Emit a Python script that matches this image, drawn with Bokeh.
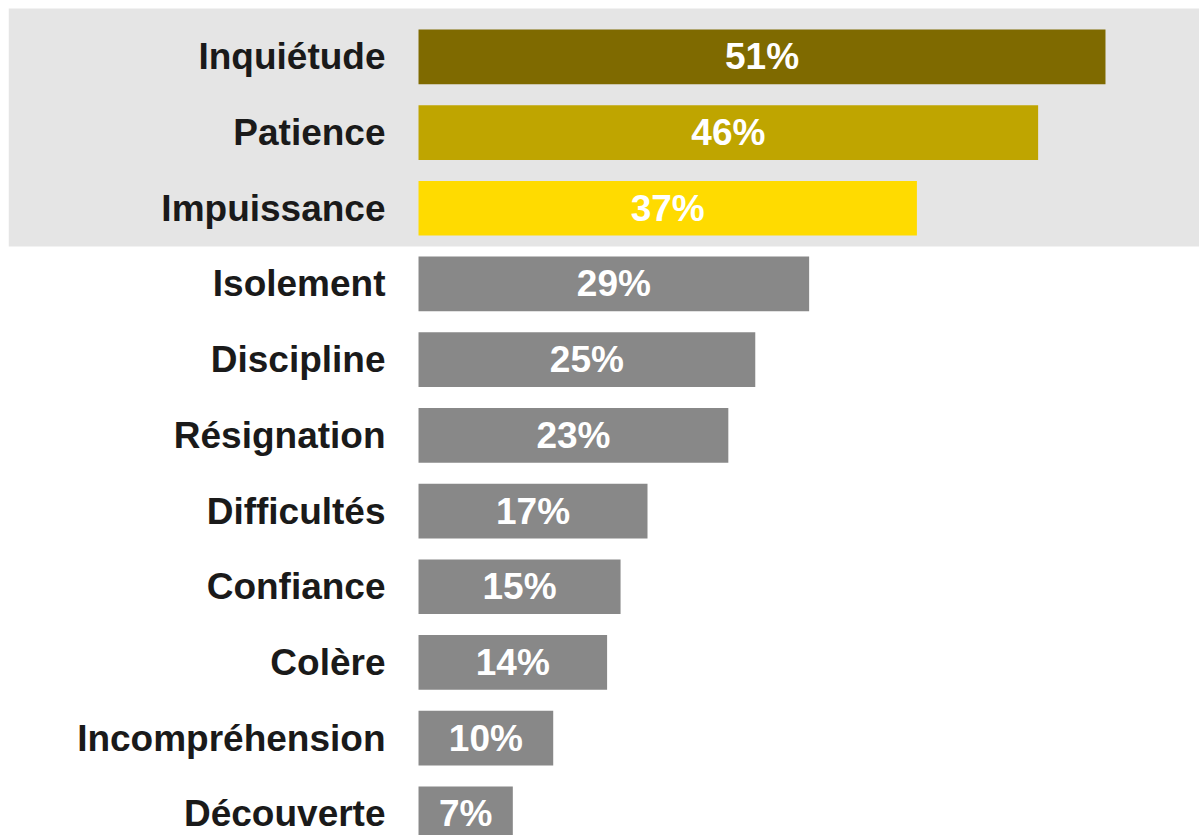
from bokeh.plotting import figure
from bokeh.models import ColumnDataSource, Range1d, BoxAnnotation
from bokeh.core.properties import value
from bokeh.embed import file_html
from bokeh.resources import INLINE

categories = ["Inquiétude", "Patience", "Impuissance", "Isolement", "Discipline",
              "Résignation", "Difficultés", "Confiance", "Colère",
              "Incompréhension", "Découverte"]
values = [51, 46, 37, 29, 25, 23, 17, 15, 14, 10, 7]
bar_colors = ["#7F6A00", "#BFA500", "#FFDB00"] + ["#888888"] * 8
highlight_count = 3

n = len(categories)
pos = list(range(n))
src = ColumnDataSource(dict(
    y=pos,
    v=values,
    mid=[v / 2 for v in values],
    zero=[0] * n,
    cat=categories,
    lab=[f"{v}%" for v in values],
    color=bar_colors,
))

p = figure(width=1199, height=835, output_backend="svg", toolbar_location=None,
           x_range=Range1d(-30.44, 57.98), y_range=Range1d(10.286, -0.639),
           min_border_left=8, min_border_top=8, min_border_right=0, min_border_bottom=0,
           background_fill_color="white", border_fill_color="white")
p.axis.visible = False
p.grid.visible = False
p.outline_line_color = None

p.add_layout(BoxAnnotation(top=-2, bottom=highlight_count - 0.495,
                           fill_color="#E5E5E5", fill_alpha=1.0, line_color=None,
                           level="underlay"))

p.hbar(y="y", left="zero", right="v", height=0.7226, color="color", line_color=None, source=src)

p.text(x="zero", y="y", text="cat", x_offset=-33, text_align="right", text_baseline="middle",
       text_font=value("Liberation Sans"), text_font_style="bold", text_font_size="37px",
       text_color="#1A1A1A", source=src)
p.text(x="mid", y="y", text="lab", text_align="center", text_baseline="middle",
       text_font=value("Liberation Sans"), text_font_style="bold", text_font_size="37px",
       text_color="white", source=src)

open("out.html", "w").write(file_html(p, INLINE))
